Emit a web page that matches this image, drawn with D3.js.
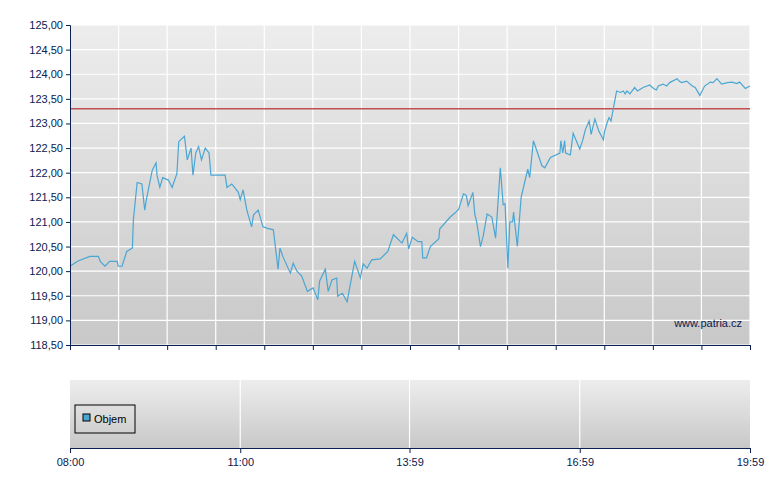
<!DOCTYPE html>
<html><head><meta charset="utf-8">
<script src="https://cdn.jsdelivr.net/npm/d3@7"></script>
<style>body{margin:0;background:#fff}text{font-family:"Liberation Sans",Arial,sans-serif}</style>
</head><body><svg id="c" width="780" height="490"></svg>
<script>
// minutes since 08:00
const minutes=[0,8,21,30,32,37,42,50,51,55,60,66,67,71,76,79,81,87,91,92,95,98,104,108,113,115,121,124,128,130,133,136,139,143,147,149,164,166,171,174,178,180,183,187,192,194,199,204,209,215,220,222,225,233,236,240,245,251,257,262,264,270,273,277,282,283,288,293,296,301,307,310,314,319,328,336,342,351,356,358,362,368,372,373,377,381,390,391,402,407,411,416,419,421,426,428,430,434,437,441,446,450,455,458,460,463,465,468,469,473,477,484,486,490,499,502,508,518,519,521,523,524,529,532,539,542,545,549,551,555,559,564,565,568,570,572,577,578,582,585,587,589,592,597,600,606,613,617,620,622,627,631,634,642,644,647,652,658,661,666,671,677,680,684,689,695,700,705,708,714,719];
const prices=[120.1,120.2,120.3,120.3,120.2,120.1,120.2,120.2,120.1,120.1,120.4,120.47,121.04,121.8,121.77,121.24,121.48,122.05,122.2,121.95,121.7,121.9,121.85,121.7,121.98,122.63,122.74,122.26,122.5,121.95,122.4,122.53,122.26,122.5,122.4,121.95,121.95,121.7,121.77,121.7,121.6,121.45,121.65,121.24,120.9,121.14,121.24,120.9,120.87,120.84,120.04,120.47,120.3,119.96,120.16,120.0,119.9,119.59,119.66,119.42,119.8,120.04,119.59,119.82,119.86,119.49,119.55,119.38,119.69,120.2,119.86,120.15,120.06,120.23,120.25,120.4,120.74,120.57,120.77,120.45,120.69,120.6,120.6,120.27,120.27,120.5,120.66,120.86,121.1,121.18,121.26,121.57,121.54,121.33,121.6,121.16,121.0,120.5,120.72,121.16,121.1,120.67,122.1,121.35,121.37,120.06,121.0,121.0,121.2,120.5,121.5,122.07,121.9,122.65,122.14,122.1,122.31,122.4,122.65,122.4,122.65,122.4,122.36,122.8,122.48,122.65,122.88,123.05,122.78,123.09,122.85,122.67,122.82,123.02,123.12,123.05,123.56,123.66,123.63,123.66,123.6,123.66,123.6,123.73,123.66,123.73,123.78,123.71,123.68,123.76,123.8,123.76,123.83,123.91,123.86,123.83,123.86,123.76,123.73,123.57,123.76,123.84,123.83,123.91,123.8,123.83,123.84,123.81,123.84,123.71,123.76];
const refPrice=123.3;
const yTicks=[118.5,119,119.5,120,120.5,121,121.5,122,122.5,123,123.5,124,124.5,125];
const timeLabels=["08:00","11:00","13:59","16:59","19:59"];
const timeLabelMin=[0,180,359,539,719];

const svg=d3.select("#c");
const x=d3.scaleLinear().domain([0,719]).range([70,750]);
const y=d3.scaleLinear().domain([118.5,125]).range([345,25]);
const defs=svg.append("defs");
const g=defs.append("linearGradient").attr("id","bg").attr("x1",0).attr("x2",0).attr("y1",0).attr("y2",1);
g.append("stop").attr("offset",0).attr("stop-color","#ededed");
g.append("stop").attr("offset",1).attr("stop-color","#c8c8c8");
svg.append("rect").attr("x",70).attr("y",25).attr("width",680).attr("height",320).attr("fill","url(#bg)");
svg.append("rect").attr("x",70).attr("y",380).attr("width",680).attr("height",68).attr("fill","url(#bg)");
const vg=d3.range(0,15).map(i=>i*719/14);
svg.selectAll(".vg").data(vg).join("line").attr("x1",d=>x(d)).attr("x2",d=>x(d)).attr("y1",25).attr("y2",345).attr("stroke","#fff").attr("stroke-width",1.2);
svg.selectAll(".hg").data(yTicks).join("line").attr("x1",70).attr("x2",750).attr("y1",d=>y(d)).attr("y2",d=>y(d)).attr("stroke","#fff").attr("stroke-width",1.2);
svg.selectAll(".vg2").data(timeLabelMin.slice(1,4)).join("line").attr("x1",d=>x(d)).attr("x2",d=>x(d)).attr("y1",380).attr("y2",448).attr("stroke","#fff").attr("stroke-width",1.2);
svg.append("line").attr("x1",70).attr("x2",750).attr("y1",y(refPrice)).attr("y2",y(refPrice)).attr("stroke","#c05050").attr("stroke-width",1.5);
svg.append("path").datum(minutes.map((m,i)=>[m,prices[i]])).attr("d",d3.line().x(d=>x(d[0])).y(d=>y(d[1]))).attr("fill","none").attr("stroke","#4aa6d2").attr("stroke-width",1.2);
const ax=svg.append("g").attr("transform","translate(70,0)").call(d3.axisLeft(y).tickValues(yTicks).tickSize(4).tickFormat(d=>d3.format(".2f")(d).replace(".",",")));
const ax2=svg.append("g").attr("transform","translate(0,345)").call(d3.axisBottom(x).tickValues(vg).tickSize(5).tickFormat(""));
const ax3=svg.append("g").attr("transform","translate(0,448)").call(d3.axisBottom(x).tickValues(timeLabelMin).tickSize(5).tickFormat((d,i)=>timeLabels[i]));
[ax,ax2,ax3].forEach(a=>{a.selectAll("path,line").attr("stroke","#0a2050");a.selectAll("text").attr("fill","#0a2050").style("font-size","11px").style("font-family","Liberation Sans, Arial, sans-serif");});
ax3.selectAll("text").attr("dy","0.9em");
svg.append("text").attr("x",742).attr("y",327).attr("text-anchor","end").attr("fill","#0a2050").style("font-size","11px").text("www.patria.cz");
svg.append("rect").attr("x",75).attr("y",405).attr("width",60).attr("height",28).attr("fill","none").attr("stroke","#000");
svg.append("rect").attr("x",83).attr("y",414).attr("width",7).attr("height",7).attr("fill","#4aa6d2").attr("stroke","#000");
svg.append("text").attr("x",94).attr("y",423).attr("fill","#000").style("font-size","11px").text("Objem");
</script></body></html>
